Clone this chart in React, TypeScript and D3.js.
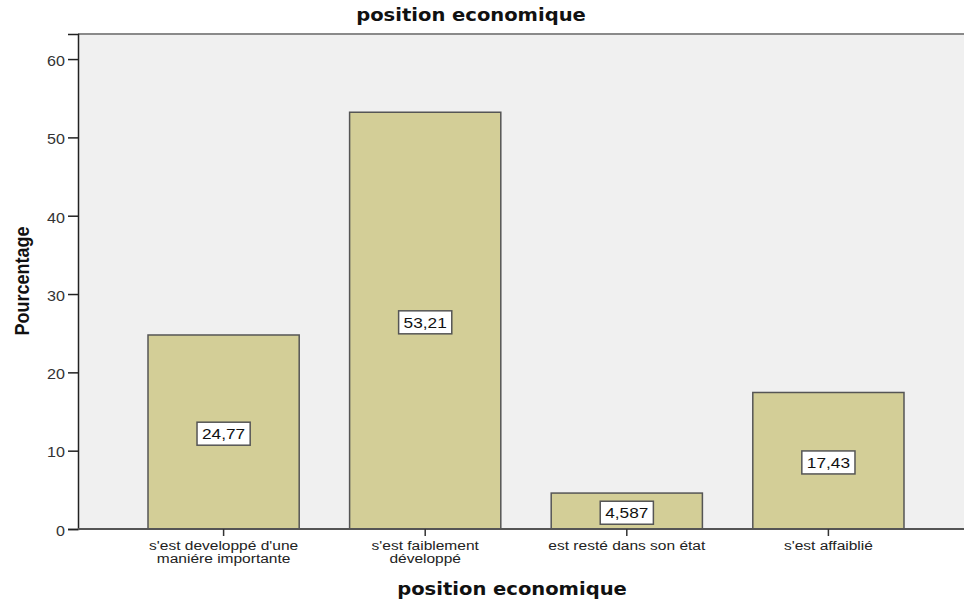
import React, { useRef, useEffect } from "react";
import * as d3 from "d3";

const categories = [
  "s'est developpé d'une\nmaniére importante",
  "s'est faiblement\ndéveloppé",
  "est resté dans son état",
  "s'est affaiblié",
];
const percents = [24.77, 53.21, 4.587, 17.43];
const valueLabels = ["24,77", "53,21", "4,587", "17,43"];
const yTicks = [0, 10, 20, 30, 40, 50, 60];

const W = 964;
const H = 604;
const SX = 1.15; // the reference is stretched horizontally

const App = () => {
  const svgRef = useRef<SVGSVGElement>(null);

  useEffect(() => {
    const svg = d3.select(svgRef.current);
    svg.selectAll("*").remove();

    const left = 78;
    const top = 34;
    const bottom = 529;

    const x = d3
      .scaleBand()
      .domain(categories)
      .range([148, 904])
      .paddingInner(0.25)
      .paddingOuter(0);

    const y = d3.scaleLinear().domain([0, 63.2]).range([bottom, top]);

    // plot background
    svg
      .append("rect")
      .attr("x", left)
      .attr("y", top)
      .attr("width", W - left)
      .attr("height", bottom - top)
      .attr("fill", "#f0f0f0");

    svg
      .append("line")
      .attr("x1", left)
      .attr("x2", W)
      .attr("y1", top)
      .attr("y2", top)
      .attr("stroke", "#8a8a8a")
      .attr("stroke-width", 2);

    // bars
    svg
      .selectAll("rect.bar")
      .data(percents)
      .enter()
      .append("rect")
      .attr("class", "bar")
      .attr("x", (d, i) => x(categories[i]))
      .attr("y", (d) => y(d))
      .attr("width", x.bandwidth())
      .attr("height", (d) => bottom - y(d))
      .attr("fill", "#d3ce97")
      .attr("stroke", "#555")
      .attr("stroke-width", 1.5);

    // y axis
    const yAxis = d3
      .axisLeft(y)
      .tickValues(yTicks)
      .tickSize(10)
      .tickPadding(3)
      .tickFormat((d) => String(d));
    const gy = svg
      .append("g")
      .attr("transform", "translate(" + left + ",0)")
      .call(yAxis);
    gy.select(".domain").attr("stroke", "#222").attr("stroke-width", 1.5);
    gy.selectAll(".tick line").attr("stroke", "#222").attr("stroke-width", 1.5);
    gy.selectAll(".tick text")
      .attr("font-family", "'Liberation Sans', Arial, sans-serif")
      .attr("font-size", 14)
      .attr("fill", "#333")
      .attr("dy", "0.45em")
      .attr("transform", "translate(-13,0) scale(" + SX + ",1) translate(13,0)");

    // x axis
    svg
      .append("line")
      .attr("x1", left)
      .attr("x2", W)
      .attr("y1", bottom)
      .attr("y2", bottom)
      .attr("stroke", "#555")
      .attr("stroke-width", 2);

    const gx = svg.append("g");
    categories.forEach((c) => {
      const cx = x(c) + x.bandwidth() / 2;
      gx.append("line")
        .attr("x1", cx)
        .attr("x2", cx)
        .attr("y1", bottom)
        .attr("y2", bottom + 7)
        .attr("stroke", "#333")
        .attr("stroke-width", 1.5);
      const lines = c.split("\n");
      lines.forEach((l, j) => {
        gx.append("text")
          .attr("transform", "translate(" + cx + "," + (550 + j * 13) + ") scale(" + SX + ",1)")
          .attr("text-anchor", "middle")
          .attr("font-family", "'Liberation Sans', Arial, sans-serif")
          .attr("font-size", 13.5)
          .attr("fill", "#222")
          .text(l);
      });
    });

    // value labels
    percents.forEach((d, i) => {
      const cx = x(categories[i]) + x.bandwidth() / 2;
      const cy = y(d / 2) + 1.7;
      const g = svg.append("g").attr("transform", "translate(" + cx + "," + cy + ")");
      const box = g.append("rect");
      const t = g
        .append("text")
        .attr("transform", "scale(" + SX + ",1)")
        .attr("text-anchor", "middle")
        .attr("dy", "0.36em")
        .attr("font-family", "'Liberation Sans', Arial, sans-serif")
        .attr("font-size", 15)
        .attr("fill", "#111")
        .text(valueLabels[i]);
      const tw = (t.node() as SVGTextElement).getComputedTextLength() * SX;
      const bw = tw + 10;
      const bh = 23;
      box
        .attr("x", -bw / 2)
        .attr("y", -bh / 2)
        .attr("width", bw)
        .attr("height", bh)
        .attr("fill", "#fff")
        .attr("stroke", "#555")
        .attr("stroke-width", 1.5);
    });

    // titles
    svg
      .append("text")
      .attr("transform", "translate(471,21) scale(" + SX + ",1)")
      .attr("text-anchor", "middle")
      .attr("font-family", "'DejaVu Sans', Verdana, sans-serif")
      .attr("font-weight", "bold")
      .attr("font-size", 17)
      .attr("fill", "#111")
      .text("position economique");

    svg
      .append("text")
      .attr("transform", "translate(512,595) scale(" + SX + ",1)")
      .attr("text-anchor", "middle")
      .attr("font-family", "'DejaVu Sans', Verdana, sans-serif")
      .attr("font-weight", "bold")
      .attr("font-size", 17)
      .attr("fill", "#111")
      .text("position economique");

    svg
      .append("text")
      .attr("transform", "translate(29,281) scale(" + SX + ",1) rotate(-90)")
      .attr("text-anchor", "middle")
      .attr("font-family", "'Liberation Sans', Arial, sans-serif")
      .attr("font-weight", "bold")
      .attr("font-size", 18)
      .attr("fill", "#111")
      .text("Pourcentage");
  }, []);

  return (
    <svg
      ref={svgRef}
      width={W}
      height={H}
      style={{ position: "absolute", left: 0, top: 0, background: "#fff" }}
    />
  );
};

export default App;
